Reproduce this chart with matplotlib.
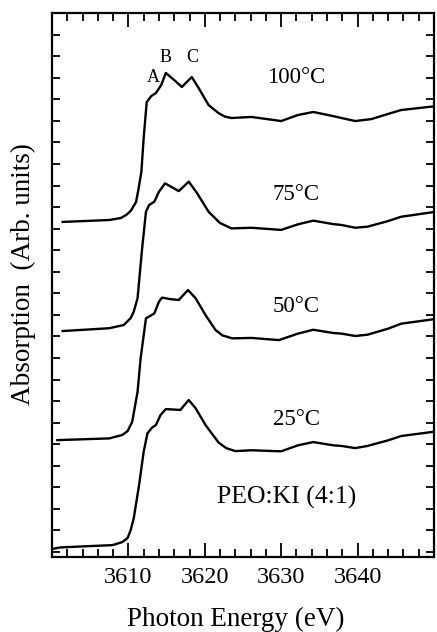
import numpy as np
import matplotlib
matplotlib.use("Agg")
import matplotlib.pyplot as plt
from matplotlib.ticker import MultipleLocator, FixedLocator, FixedFormatter

plt.rcParams['font.family'] = ['Liberation Serif', 'DejaVu Serif']

# spectra (energy in eV, absorption in arb. units incl. offset)
e_100 = [3601.4, 3607.5, 3609.0, 3609.7, 3610.3, 3611.0, 3611.3, 3611.7, 3612.0, 3612.4,
         3613.0, 3613.6, 3614.3, 3614.9, 3616.0, 3617.0, 3618.3, 3619.2, 3620.5, 3621.8,
         3622.6, 3623.5, 3626.1, 3630.0, 3632.2, 3634.2, 3636.8, 3637.9, 3639.7, 3641.8,
         3644.0, 3645.7, 3649.2, 3649.8]
a_100 = [15.31, 15.40, 15.49, 15.63, 15.82, 16.23, 16.79, 17.63, 19.20, 20.87,
         21.15, 21.29, 21.66, 22.22, 21.89, 21.57, 22.03, 21.52, 20.73, 20.36,
         20.20, 20.13, 20.18, 19.99, 20.27, 20.41, 20.22, 20.13, 19.99, 20.08,
         20.32, 20.50, 20.64, 20.66]

e_75 = [3601.4, 3607.5, 3609.4, 3610.3, 3610.7, 3611.2, 3611.8, 3612.3, 3612.7, 3613.4,
        3614.0, 3614.8, 3616.6, 3617.9, 3619.0, 3620.5, 3622.0, 3623.5, 3626.1, 3630.0,
        3632.2, 3634.2, 3636.8, 3637.9, 3639.7, 3641.3, 3644.0, 3645.7, 3649.8]
a_75 = [10.25, 10.38, 10.53, 10.85, 11.15, 11.77, 14.09, 15.78, 16.09, 16.25,
        16.71, 17.10, 16.74, 17.18, 16.64, 15.78, 15.26, 15.01, 15.04, 14.94,
        15.20, 15.37, 15.21, 15.17, 15.04, 15.09, 15.35, 15.55, 15.76]

e_50 = [3600.7, 3607.5, 3609.2, 3609.9, 3610.5, 3611.2, 3611.6, 3612.3, 3612.9, 3613.4,
        3614.0, 3614.4, 3615.5, 3616.6, 3617.8, 3618.8, 3620.1, 3621.4, 3622.3, 3623.6,
        3626.1, 3629.7, 3632.2, 3634.2, 3636.8, 3637.9, 3639.7, 3641.3, 3644.0, 3645.7,
        3649.8]
a_50 = [5.19, 5.27, 5.43, 5.61, 6.04, 7.43, 8.98, 10.84, 10.96, 11.07,
        11.61, 11.80, 11.73, 11.69, 12.15, 11.77, 10.99, 10.30, 10.05, 9.91,
        9.93, 9.83, 10.13, 10.31, 10.16, 10.13, 10.02, 10.08, 10.36, 10.59,
        10.79]

e_25 = [3600.0, 3601.0, 3604.0, 3607.9, 3609.2, 3609.9, 3610.3, 3610.7, 3611.4, 3612.0,
        3612.5, 3613.1, 3613.6, 3614.2, 3614.9, 3616.8, 3617.9, 3618.8, 3620.1, 3621.8,
        3622.8, 3624.0, 3626.1, 3630.0, 3632.2, 3634.2, 3636.8, 3637.9, 3639.7, 3641.3,
        3644.0, 3645.7, 3649.8]
a_25 = [0.14, 0.21, 0.26, 0.32, 0.46, 0.65, 1.02, 1.56, 3.11, 4.65,
        5.51, 5.77, 5.89, 6.35, 6.63, 6.59, 7.05, 6.67, 5.89, 5.08,
        4.82, 4.68, 4.72, 4.67, 4.95, 5.10, 4.95, 4.92, 4.82, 4.92,
        5.18, 5.38, 5.57]

temps = ['100°C', '75°C', '50°C', '25°C']
xtick_vals = [3600, 3610, 3620, 3630, 3640, 3650]
xtick_labels = ['', '3610', '3620', '3630', '3640', '']

fig = plt.figure(figsize=(4.37, 6.32), dpi=100)
ax = fig.add_axes([0.119, 0.1187, 0.874, 0.8607])

for e, a in [(e_100, a_100), (e_75, a_75), (e_50, a_50), (e_25, a_25)]:
    ax.plot(e, a, color='black', lw=1.7, solid_joinstyle='round')

ax.set_xlim(3600, 3650)
ax.set_ylim(-0.23, 25)

# temperature labels
for lab, yb in zip(temps, [21.75, 16.33, 11.13, 5.89]):
    ax.text(3632.0, yb, lab, ha='center', va='baseline', fontsize=16.5)
ax.text(3630.7, 2.27, 'PEO:KI (4:1)', ha='center', va='baseline', fontsize=18.5)
ax.text(3613.2, 21.80, 'A', ha='center', va='baseline', fontsize=13)
ax.text(3614.9, 22.73, 'B', ha='center', va='baseline', fontsize=13)
ax.text(3618.3, 22.73, 'C', ha='center', va='baseline', fontsize=13)

ax.xaxis.set_major_locator(FixedLocator(xtick_vals))
ax.xaxis.set_major_formatter(FixedFormatter(xtick_labels))
ax.xaxis.set_minor_locator(MultipleLocator(2))
ax.yaxis.set_major_locator(MultipleLocator(1))
ax.yaxis.set_ticklabels([])

ax.tick_params(axis='x', which='major', direction='in', length=10, width=1.3,
               top=True, labelsize=17.5, pad=7)
ax.tick_params(axis='x', which='minor', direction='in', length=5.5, width=1.3, top=True)
ax.tick_params(axis='y', which='major', direction='in', length=5.5, width=1.3,
               right=True, labelleft=False)
for s in ax.spines.values():
    s.set_linewidth(1.6)

# x label placed by baseline so it sits low like the original
fig.text(0.54, 1 - 626 / 632, 'Photon Energy (eV)', fontsize=19.5,
         ha='center', va='baseline')
ax.set_ylabel('Absorption  (Arb. units)', fontsize=19.5)
ax.yaxis.set_label_coords(-0.042, 0.52)

fig.savefig('out.png', dpi=100)
